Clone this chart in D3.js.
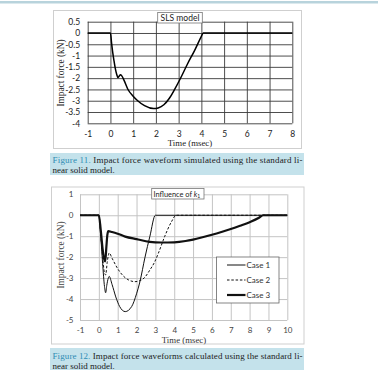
<!DOCTYPE html>
<html>
<head>
<meta charset="utf-8">
<script src="https://cdn.jsdelivr.net/npm/d3@7"></script>
<style>
  body { margin: 0; background: #fff; }
  .tick text { font-family: Lato, "Liberation Sans", sans-serif; }
  .serif { font-family: "Liberation Serif", serif; }
</style>
</head>
<body>
<script>
// ---- Figure 11 data (SLS model) ----
const fig11Time  = [-1, 0, 0.05, 0.1, 0.16, 0.22, 0.28, 0.33, 0.38, 0.44, 0.5, 0.6, 0.76, 1.0, 1.2, 1.5, 1.9, 2.1, 2.35, 2.6, 2.8, 3.1, 3.4, 3.7, 4.0, 4.08, 8];
const fig11Force = [0, 0, -0.45, -0.86, -1.25, -1.6, -1.85, -1.98, -1.92, -1.85, -1.9, -2.1, -2.48, -2.8, -3.0, -3.22, -3.35, -3.32, -3.18, -2.88, -2.54, -1.97, -1.35, -0.78, -0.15, 0, 0];
const fig11XTicks = [-1, 0, 1, 2, 3, 4, 5, 6, 7, 8];
const fig11YTicks = [0.5, 0, -0.5, -1, -1.5, -2, -2.5, -3, -3.5, -4];

// ---- Figure 12 data (influence of k1) ----
const caseNames = ["Case 1", "Case 2", "Case 3"];
const case1Time  = [-1, 0, 0.1, 0.2, 0.3, 0.36, 0.42, 0.5, 0.55, 0.7, 0.9, 1.1, 1.4, 1.74, 2.0, 2.18, 2.45, 2.71, 3.0, 10];
const case1Force = [0, 0, -1.0, -2.3, -3.4, -3.7, -3.35, -3.0, -2.92, -3.3, -3.9, -4.35, -4.6, -4.36, -3.75, -3.17, -2.0, -1.0, 0, 0];
const case2Time  = [-1, 0, 0.1, 0.2, 0.3, 0.36, 0.45, 0.55, 0.7, 1.0, 1.3, 1.6, 1.92, 2.2, 2.45, 2.71, 2.95, 3.16, 3.5, 3.86, 4.1, 10];
const case2Force = [0, 0, -0.9, -2.0, -2.75, -2.85, -2.2, -1.8, -2.05, -2.55, -2.9, -3.1, -3.17, -3.12, -2.95, -2.61, -2.25, -1.81, -1.0, -0.3, 0, 0];
const case3Time  = [-1, 0, 0.1, 0.2, 0.3, 0.34, 0.4, 0.45, 0.5, 0.7, 1.0, 1.4, 2.0, 2.7, 3.3, 4.0, 4.6, 5.0, 5.5, 6.0, 6.5, 7.0, 7.5, 8.0, 8.5, 8.72, 10];
const case3Force = [0, 0, -0.7, -1.6, -2.15, -2.2, -1.5, -0.95, -0.76, -0.8, -0.88, -1.02, -1.14, -1.27, -1.3, -1.29, -1.23, -1.16, -1.05, -0.93, -0.8, -0.66, -0.5, -0.33, -0.12, 0, 0];
const fig12XTicks = [-1, 0, 1, 2, 3, 4, 5, 6, 7, 8, 9, 10];
const fig12YTicks = [1, 0, -1, -2, -3, -4, -5];

const svg = d3.select("body").append("svg")
  .attr("width", 378)
  .attr("height", 379);

// thin page rule at the top
svg.append("rect").attr("x", 0).attr("y", 1).attr("width", 378).attr("height", 2.5).attr("fill", "#b8d3dc");

const fmt = d => String(d);

// ================= Figure 11 =================
svg.append("rect")
  .attr("x", 53.5).attr("y", 10.5).attr("width", 248).attr("height", 138)
  .attr("fill", "#fff").attr("stroke", "#cfcfcf");

const x11 = d3.scaleLinear().domain([-1, 8]).range([87.7, 292.3]);
const y11 = d3.scaleLinear().domain([-4, 0.5]).range([123.3, 21.7]);

const g11 = svg.append("g");

// grid
g11.append("g")
  .attr("transform", `translate(${x11(-1)},0)`)
  .call(d3.axisLeft(y11).tickValues(fig11YTicks).tickSize(-(x11(8) - x11(-1))).tickFormat(""))
  .call(g => g.select(".domain").remove())
  .selectAll("line").attr("stroke", "#3a3a3a").attr("stroke-width", 0.9);

g11.append("g")
  .attr("transform", `translate(0,${y11(-4)})`)
  .call(d3.axisBottom(x11).tickValues(fig11XTicks).tickSize(-(y11(-4) - y11(0.5))).tickFormat(""))
  .call(g => g.select(".domain").remove())
  .selectAll("line").attr("stroke", "#3a3a3a").attr("stroke-width", 0.9);

// tick labels
g11.append("g")
  .attr("transform", `translate(${x11(-1)},0)`)
  .call(d3.axisLeft(y11).tickValues(fig11YTicks).tickSize(0).tickPadding(7.5).tickFormat(fmt))
  .call(g => g.select(".domain").remove())
  .selectAll("text").attr("font-size", 8.5).attr("fill", "#222");

g11.append("g")
  .attr("transform", `translate(0,${y11(-4)})`)
  .call(d3.axisBottom(x11).tickValues(fig11XTicks).tickSize(0).tickPadding(8).tickFormat(fmt))
  .call(g => g.select(".domain").remove())
  .selectAll("text").attr("font-size", 8.5).attr("fill", "#222");

g11.append("text")
  .attr("class", "serif")
  .attr("x", 190).attr("y", 146)
  .attr("text-anchor", "middle")
  .attr("font-size", 8.8)
  .attr("fill", "#222")
  .text("Time (msec)");

g11.append("text")
  .attr("class", "serif")
  .attr("transform", "translate(64,73) rotate(-90)")
  .attr("text-anchor", "middle")
  .attr("font-size", 9.3)
  .attr("fill", "#222")
  .text("Impact force (kN)");

// curve
g11.append("path")
  .datum(d3.zip(fig11Time, fig11Force))
  .attr("fill", "none")
  .attr("stroke", "#000")
  .attr("stroke-width", 1.5)
  .attr("d", d3.line().x(d => x11(d[0])).y(d => y11(d[1])).curve(d3.curveMonotoneX));

// title box
g11.append("rect")
  .attr("x", 157.7).attr("y", 12.5).attr("width", 44.6).attr("height", 10.5)
  .attr("fill", "#fff").attr("stroke", "#777").attr("stroke-width", 0.8);
g11.append("text")
  .attr("x", 180).attr("y", 20.8)
  .attr("text-anchor", "middle")
  .attr("font-family", "Lato, sans-serif")
  .attr("font-size", 8.5)
  .attr("fill", "#222")
  .text("SLS model");

// caption 11
svg.append("rect").attr("x", 50).attr("y", 153).attr("width", 254).attr("height", 22).attr("fill", "#c4e2eb");
const cap11 = svg.append("text").attr("class", "serif").attr("x", 52.5).attr("y", 162.5)
  .attr("font-size", 9).attr("textLength", 250).attr("lengthAdjust", "spacing");
cap11.append("tspan").attr("fill", "#2f8db5").text("Figure 11. ");
cap11.append("tspan").attr("fill", "#1a1a1a").text("Impact force waveform simulated using the standard li-");
svg.append("text").attr("class", "serif").attr("x", 52.5).attr("y", 173)
  .attr("font-size", 9).attr("fill", "#1a1a1a").text("near solid model.");

// ================= Figure 12 =================
svg.append("rect")
  .attr("x", 51.5).attr("y", 187).attr("width", 252.5).attr("height", 157)
  .attr("fill", "#fff").attr("stroke", "#cfcfcf");

const x12 = d3.scaleLinear().domain([-1, 10]).range([80, 287.3]);
const y12 = d3.scaleLinear().domain([-5, 1]).range([320, 194.3]);

const g12 = svg.append("g");

g12.append("g")
  .attr("transform", `translate(${x12(-1)},0)`)
  .call(d3.axisLeft(y12).tickValues(fig12YTicks).tickSize(-(x12(10) - x12(-1))).tickFormat(""))
  .call(g => g.select(".domain").remove())
  .selectAll("line").attr("stroke", "#c4c4c4").attr("stroke-width", 1);

g12.append("g")
  .attr("transform", `translate(0,${y12(-5)})`)
  .call(d3.axisBottom(x12).tickValues(fig12XTicks).tickSize(-(y12(-5) - y12(1))).tickFormat(""))
  .call(g => g.select(".domain").remove())
  .selectAll("line").attr("stroke", "#c4c4c4").attr("stroke-width", 1);

g12.append("g")
  .attr("transform", `translate(${x12(-1)},0)`)
  .call(d3.axisLeft(y12).tickValues(fig12YTicks).tickSize(0).tickPadding(6.5).tickFormat(fmt))
  .call(g => g.select(".domain").remove())
  .selectAll("text").attr("font-size", 8).attr("fill", "#444");

g12.append("g")
  .attr("transform", `translate(0,${y12(-5)})`)
  .call(d3.axisBottom(x12).tickValues(fig12XTicks).tickSize(0).tickPadding(7).tickFormat(fmt))
  .call(g => g.select(".domain").remove())
  .selectAll("text").attr("font-size", 8).attr("fill", "#444");

g12.append("text")
  .attr("class", "serif")
  .attr("x", 184).attr("y", 342.5)
  .attr("text-anchor", "middle")
  .attr("font-size", 8.8)
  .attr("fill", "#333")
  .text("Time (msec)");

g12.append("text")
  .attr("class", "serif")
  .attr("transform", "translate(63.5,255) rotate(-90)")
  .attr("text-anchor", "middle")
  .attr("font-size", 9.3)
  .attr("fill", "#444")
  .text("Impact force (kN)");

const line12 = d3.line().x(d => x12(d[0])).y(d => y12(d[1])).curve(d3.curveMonotoneX);
const caseData = [
  { name: caseNames[0], pts: d3.zip(case1Time, case1Force), width: 1, dash: null },
  { name: caseNames[1], pts: d3.zip(case2Time, case2Force), width: 1, dash: "2.5,1.8" },
  { name: caseNames[2], pts: d3.zip(case3Time, case3Force), width: 2.2, dash: null }
];

g12.selectAll(".case")
  .data(caseData)
  .enter()
  .append("path")
  .attr("class", "case")
  .attr("fill", "none")
  .attr("stroke", "#111")
  .attr("stroke-width", d => d.width)
  .attr("stroke-dasharray", d => d.dash)
  .attr("d", d => line12(d.pts));

// title box
g12.append("rect")
  .attr("x", 151.7).attr("y", 188.5).attr("width", 52.3).attr("height", 10.5)
  .attr("fill", "#fff").attr("stroke", "#777").attr("stroke-width", 0.8);
const t12 = g12.append("text")
  .attr("x", 153.5).attr("y", 196.6)
  .attr("font-family", "Lato, sans-serif")
  .attr("font-size", 7.4)
  .attr("fill", "#222");
t12.append("tspan").text("Influence of ");
t12.append("tspan").attr("font-style", "italic").text("k");
t12.append("tspan").attr("font-size", 5).attr("dy", 1.6).text("1");

// legend
g12.append("rect")
  .attr("x", 216.5).attr("y", 257).attr("width", 62.5).attr("height", 46)
  .attr("fill", "#fff").attr("stroke", "#666").attr("stroke-width", 0.8);

const legendY = d3.scalePoint().domain(caseNames).range([265, 295]);
const leg = g12.selectAll(".leg")
  .data(caseData)
  .enter()
  .append("g")
  .attr("class", "leg")
  .attr("transform", d => `translate(0,${legendY(d.name)})`);
leg.append("line")
  .attr("x1", 227).attr("x2", 245.5)
  .attr("stroke", "#111")
  .attr("stroke-width", d => d.width)
  .attr("stroke-dasharray", d => d.dash);
leg.append("text")
  .attr("x", 246.5).attr("y", 3)
  .attr("font-family", "Lato, sans-serif")
  .attr("font-size", 8)
  .attr("fill", "#333")
  .text(d => d.name);

// caption 12
svg.append("rect").attr("x", 50).attr("y", 348).attr("width", 254).attr("height", 22).attr("fill", "#c4e2eb");
const cap12 = svg.append("text").attr("class", "serif").attr("x", 52.5).attr("y", 358.5)
  .attr("font-size", 9).attr("textLength", 250).attr("lengthAdjust", "spacing");
cap12.append("tspan").attr("fill", "#2f8db5").text("Figure 12. ");
cap12.append("tspan").attr("fill", "#1a1a1a").text("Impact force waveforms calculated using the standard li-");
svg.append("text").attr("class", "serif").attr("x", 52.5).attr("y", 369)
  .attr("font-size", 9).attr("fill", "#1a1a1a").text("near solid model.");
</script>
</body>
</html>
